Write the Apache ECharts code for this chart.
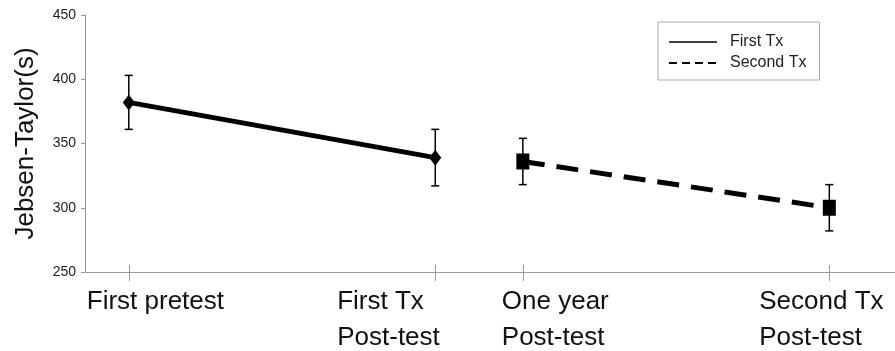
<!DOCTYPE html>
<html>
<head>
<meta charset="utf-8">
<script src="https://cdn.jsdelivr.net/npm/echarts@6/dist/echarts.min.js"></script>
<style>html,body{margin:0;padding:0;background:#fff}#c{width:895px;height:351px}</style>
</head>
<body>
<div id="c"></div>
<script>
// ---- data ----
const categories = ['First pretest', 'First Tx\nPost-test', 'One year\nPost-test', 'Second Tx\nPost-test'];
const xPos = [0.5, 4, 5, 8.5];           // positions of the time points on the x scale
const firstTxMeans = [382, 339];          // First pretest, First Tx Post-test
const firstTxErr = [21, 22];
const secondTxMeans = [336, 300];         // One year Post-test, Second Tx Post-test
const secondTxErr = [18, 18];
const yTicks = [250, 300, 350, 400, 450];
const seriesNames = ['First Tx', 'Second Tx'];

// ---- layout / style (not data) ----
const labelShift = [-0.48, -1.12, -0.24, -0.80]; // label left edge relative to tick, in axis units
const FONT = 'Liberation Sans';

const firstData = firstTxMeans.map((v, i) => [xPos[i], v]);
const secondData = secondTxMeans.map((v, i) => [xPos[i + 2], v]);
const errData = firstTxMeans.map((v, i) => [xPos[i], v - firstTxErr[i], v + firstTxErr[i]])
  .concat(secondTxMeans.map((v, i) => [xPos[i + 2], v - secondTxErr[i], v + secondTxErr[i]]));
const labelVals = xPos.map((x, i) => +(x + labelShift[i]).toFixed(3));

const chart = echarts.init(document.getElementById('c'));
chart.setOption({
  animation: false,
  backgroundColor: '#fff',
  grid: { left: 85, right: 0, top: 15, bottom: 79, containLabel: false, outerBoundsMode: 'none' },
  xAxis: [{
    type: 'value', min: 0, max: 9.25,
    axisLine: { show: true, lineStyle: { color: '#999', width: 1 } },
    splitLine: { show: false },
    axisTick: { show: true, customValues: xPos, length: 9, lineStyle: { color: '#999' } },
    axisLabel: {
      customValues: labelVals, align: 'left', margin: 12, lineHeight: 36,
      fontFamily: FONT, fontSize: 26, color: '#111',
      formatter: v => { const i = labelVals.findIndex(l => Math.abs(l - v) < 1e-6); return i >= 0 ? categories[i] : ''; }
    }
  }, {
    type: 'value', min: 0, max: 9.25, position: 'bottom',
    axisLine: { show: false }, splitLine: { show: false },
    axisTick: { show: true, inside: true, customValues: xPos, length: 7, lineStyle: { color: '#999' } },
    axisLabel: { show: false }
  }],
  yAxis: {
    type: 'value', min: 250, max: 450, interval: 50,
    name: 'Jebsen-Taylor(s)', nameLocation: 'middle', nameGap: 46, nameRotate: 90,
    nameTextStyle: { fontFamily: FONT, fontSize: 26, color: '#111' },
    axisLine: { show: true, lineStyle: { color: '#999', width: 1 } },
    axisTick: { show: true, length: 4, lineStyle: { color: '#999' } },
    splitLine: { show: false },
    axisLabel: { fontFamily: FONT, fontSize: 14, color: '#222', margin: 9,
      formatter: v => yTicks.includes(v) ? String(v) : '' }
  },
  legend: {
    orient: 'vertical', left: 658, top: 22,
    padding: [12, 13, 9, 10], itemGap: 5, itemWidth: 48, itemHeight: 16,
    borderColor: '#aaa', borderWidth: 1,
    textStyle: { fontFamily: FONT, fontSize: 16, color: '#222', padding: [0, 0, 0, 8] },
    itemStyle: { opacity: 0 },
    data: [
      { name: seriesNames[0], lineStyle: { width: 1.5, type: 'solid' } },
      { name: seriesNames[1], lineStyle: { width: 2, type: [8, 5] } }
    ]
  },
  series: [
    {
      name: seriesNames[0], type: 'line', data: firstData,
      lineStyle: { color: '#000', width: 5 },
      itemStyle: { color: '#000' },
      symbol: 'diamond', symbolSize: [12, 16], z: 3
    },
    {
      name: seriesNames[1], type: 'line', data: secondData,
      lineStyle: { color: '#000', width: 5, type: [22, 12] },
      itemStyle: { color: '#000' },
      symbol: 'rect', symbolSize: [13, 16], z: 3
    },
    {
      name: 'err', type: 'custom', data: errData, z: 4,
      renderItem: (params, api) => {
        const x = api.value(0);
        const lo = api.coord([x, api.value(1)]);
        const hi = api.coord([x, api.value(2)]);
        const w = 4;
        const st = { stroke: '#000', lineWidth: 1.5 };
        return { type: 'group', children: [
          { type: 'line', shape: { x1: lo[0], y1: lo[1], x2: hi[0], y2: hi[1] }, style: st },
          { type: 'line', shape: { x1: lo[0] - w, y1: lo[1], x2: lo[0] + w, y2: lo[1] }, style: st },
          { type: 'line', shape: { x1: hi[0] - w, y1: hi[1], x2: hi[0] + w, y2: hi[1] }, style: st }
        ]};
      }
    }
  ]
});
</script>
</body>
</html>
